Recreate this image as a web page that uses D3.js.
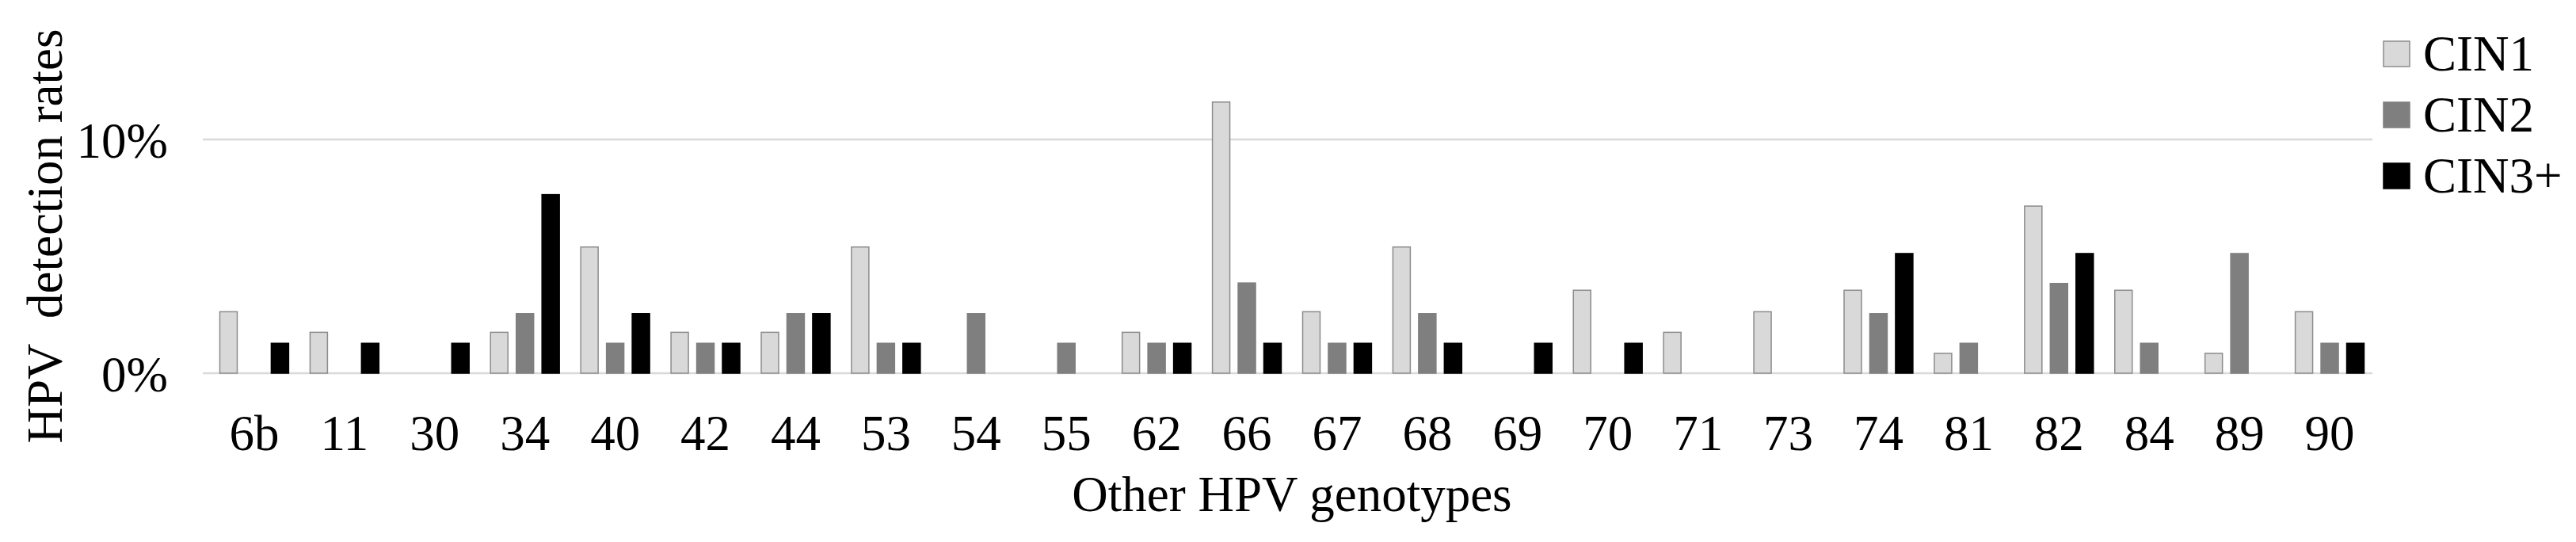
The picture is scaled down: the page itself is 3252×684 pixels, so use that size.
<!DOCTYPE html>
<html>
<head>
<meta charset="utf-8">
<script src="https://cdn.jsdelivr.net/npm/d3@7"></script>
<style>
  html, body { margin: 0; padding: 0; background: #fff; }
  svg { display: block; }
  text { font-family: "Liberation Serif", "Times New Roman", serif; fill: #000; }
</style>
</head>
<body>
<svg id="chart" width="3252" height="684"></svg>
<script>
// ---- data (percent) ----
const genotypes = ["6b","11","30","34","40","42","44","53","54","55","62","66","67","68","69","70","71","73","74","81","82","84","89","90"];
const seriesNames = ["CIN1","CIN2","CIN3+"];
const cin1  = [2.63,1.75,0,1.75,5.4,1.75,1.75,5.4,0,0,1.75,11.6,2.63,5.4,0,3.55,1.75,2.63,3.55,0.85,7.15,3.55,0.85,2.63];
const cin2  = [0,0,0,2.55,1.28,1.28,2.55,1.28,2.55,1.28,1.28,3.86,1.28,2.55,0,0,0,0,2.55,1.28,3.84,1.28,5.12,1.28];
const cin3p = [1.28,1.28,1.28,7.64,2.55,1.28,2.55,1.28,0,0,1.28,1.28,1.28,1.28,1.28,1.28,0,0,5.12,0,5.12,0,0,1.28];
const yTicks = [0, 10];
const yTickLabels = ["0%", "10%"];
const xTitle = "Other HPV genotypes";
const yTitle = "HPV\u00A0\u00A0detection rates";

const seriesValues = [cin1, cin2, cin3p];
const fills   = ["#d9d9d9", "#7f7f7f", "#000000"];
const strokes = ["#8c8c8c", "#7f7f7f", "#000000"];

const svg = d3.select("#chart");
const FS = 63;

const plotL = 264, plotR = 2998;
const x0 = d3.scaleBand().domain(genotypes).range([plotL, plotR]).paddingInner(0).paddingOuter(0);
const bw = x0.bandwidth();
const innerW = bw * 0.776;
const x1 = d3.scaleBand().domain(seriesNames)
  .range([(bw - innerW) / 2, (bw + innerW) / 2])
  .paddingInner(0.277).paddingOuter(0);
const y = d3.scaleLinear().domain([0, 10]).range([471, 176]);

// gridlines
svg.append("g").selectAll("line").data(yTicks).join("line")
  .attr("x1", plotL - 8).attr("x2", plotR - 3)
  .attr("y1", d => y(d)).attr("y2", d => y(d))
  .attr("stroke", "#d9d9d9").attr("stroke-width", 2.5);

// bars
const groups = svg.append("g").selectAll("g").data(genotypes).join("g")
  .attr("transform", g => `translate(${x0(g)},0)`);
groups.selectAll("rect")
  .data((g, i) => seriesNames.map((s, k) => ({ s, k, v: seriesValues[k][i] })).filter(d => d.v > 0))
  .join("rect")
  .attr("x", d => x1(d.s) + 0.75)
  .attr("width", x1.bandwidth() - 1.5)
  .attr("y", d => y(d.v))
  .attr("height", d => y(0) - y(d.v))
  .attr("fill", d => fills[d.k])
  .attr("stroke", d => strokes[d.k])
  .attr("stroke-width", 1.5);

// y tick labels
svg.append("g").selectAll("text").data(yTicks).join("text")
  .attr("x", 212).attr("y", d => y(d) + 23)
  .attr("text-anchor", "end").attr("font-size", FS)
  .text((d, i) => yTickLabels[i]);

// x tick labels via axis
const xAxis = d3.axisBottom(x0).tickSize(0).tickPadding(0);
const xa = svg.append("g").attr("transform", "translate(0,568)").call(xAxis);
xa.select(".domain").remove();
xa.selectAll("text")
  .attr("y", 0).attr("dy", 0)
  .attr("font-size", FS)
  .attr("font-family", "Liberation Serif, Times New Roman, serif")
  .attr("fill", "#000");

// axis titles
svg.append("text").attr("x", (plotL + plotR) / 2).attr("y", 645)
  .attr("text-anchor", "middle").attr("font-size", FS).text(xTitle);
svg.append("text")
  .attr("transform", "translate(78,298) rotate(-90)")
  .attr("text-anchor", "middle").attr("font-size", FS).text(yTitle);

// legend
const lg = svg.append("g").selectAll("g").data(seriesNames).join("g")
  .attr("transform", (d, i) => `translate(3009,${68 + i * 77})`);
lg.append("rect").attr("x", 0).attr("y", -16).attr("width", 33).attr("height", 32)
  .attr("fill", (d, i) => fills[i]).attr("stroke", (d, i) => strokes[i]).attr("stroke-width", 1.5);
lg.append("text").attr("x", 50).attr("y", 21).attr("font-size", FS).text(d => d);
</script>
</body>
</html>
